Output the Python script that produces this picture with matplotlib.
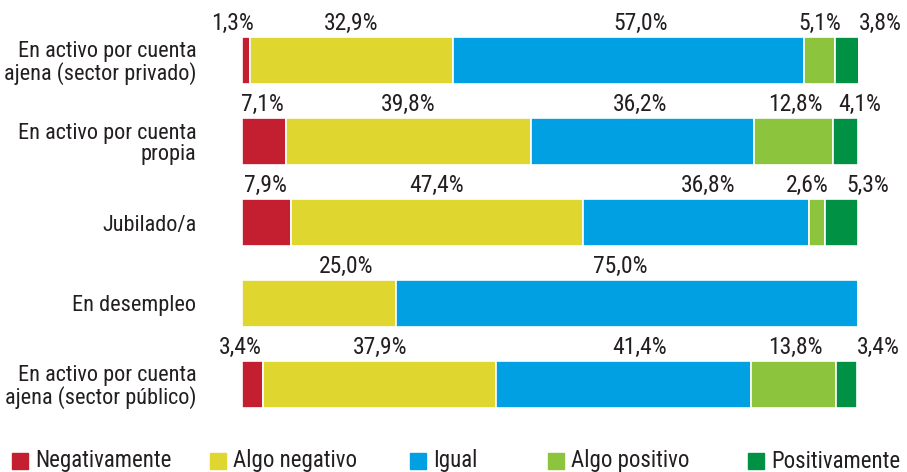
import matplotlib
matplotlib.use("Agg")
import matplotlib.pyplot as plt
from matplotlib import font_manager

categories = [
    "En activo por cuenta\najena (sector privado)",
    "En activo por cuenta\npropia",
    "Jubilado/a",
    "En desempleo",
    "En activo por cuenta\najena (sector público)",
]
series_names = ["Negativamente", "Algo negativo", "Igual", "Algo positivo", "Positivamente"]
negativamente = [1.3, 7.1, 7.9, 0.0, 3.4]
algo_negativo = [32.9, 39.8, 47.4, 25.0, 37.9]
igual = [57.0, 36.2, 36.8, 75.0, 41.4]
algo_positivo = [5.1, 12.8, 2.6, 0.0, 13.8]
positivamente = [3.8, 4.1, 5.3, 0.0, 3.4]

colors = ["#C41F30", "#E0D630", "#00A0E2", "#8CC43E", "#009144"]

# label horizontal nudges in pixels (to avoid overlaps, as in the reference)
label_dx = [
    [-14, 0, 12, 0, 33],
    [-1, 0, -2, 2, 14],
    [-1, 0, 12, -10, 26],
    [0, 27, -7, 0, 0],
    [-12, 0, 16, 1, 31],
]

avail = {f.name for f in font_manager.fontManager.ttflist}
fam = "DejaVu Sans"
for cand in ["Liberation Sans Narrow", "Roboto Condensed", "Open Sans Condensed",
             "PT Sans Narrow", "Archivo Narrow", "Asap Condensed", "Fira Sans Condensed"]:
    if cand in avail:
        fam = cand
        break
plt.rcParams["font.family"] = [fam, "DejaVu Sans"]

W, H = 907, 472
dpi = 100
fig = plt.figure(figsize=(W / dpi, H / dpi), dpi=dpi)
ax = fig.add_axes([242 / W, (H - 425) / H, (858 - 242) / W, 405 / H])

FS = 17
TC = "#231F20"
data = [negativamente, algo_negativo, igual, algo_positivo, positivamente]
ypos = list(range(len(categories)))
bar_h = 0.58
left = [0.0] * len(categories)
px_per_unit = (858 - 242) / 100.0
for si, (vals, col) in enumerate(zip(data, colors)):
    ax.barh(ypos, vals, left=left, height=bar_h, color=col,
            edgecolor="white", linewidth=1.2, label=series_names[si])
    for ri, v in enumerate(vals):
        if v > 0:
            cx = left[ri] + v / 2 + label_dx[ri][si] / px_per_unit
            ax.annotate(f"{v:.1f}%".replace(".", ","),
                        xy=(cx, ypos[ri] - bar_h / 2), xytext=(0, 1.5),
                        textcoords="offset points", ha="center", va="bottom",
                        fontsize=FS, color=TC, annotation_clip=False)
    left = [l + v for l, v in zip(left, vals)]

ax.set_xlim(0, 100)
ax.set_ylim(4.5, -0.5)
ax.set_yticks(ypos)
ax.set_yticklabels(categories, fontsize=16, color=TC, ha="right",
                   linespacing=1.02)
ax.tick_params(axis="y", length=0, pad=33)
ax.set_xticks([])
for s in ax.spines.values():
    s.set_visible(False)

# Legend
leg_x = [12, 210, 410, 548, 748]
for name, col, lx in zip(series_names, colors, leg_x):
    fig.patches.append(plt.Rectangle((lx / W, (H - 469) / H), 16 / W, 16 / H,
                                     transform=fig.transFigure, color=col))
    fig.text((lx + 23) / W, (H - 461) / H, name, fontsize=16.5,
             color=TC, va="center", ha="left")

fig.savefig("out.png", dpi=dpi)
